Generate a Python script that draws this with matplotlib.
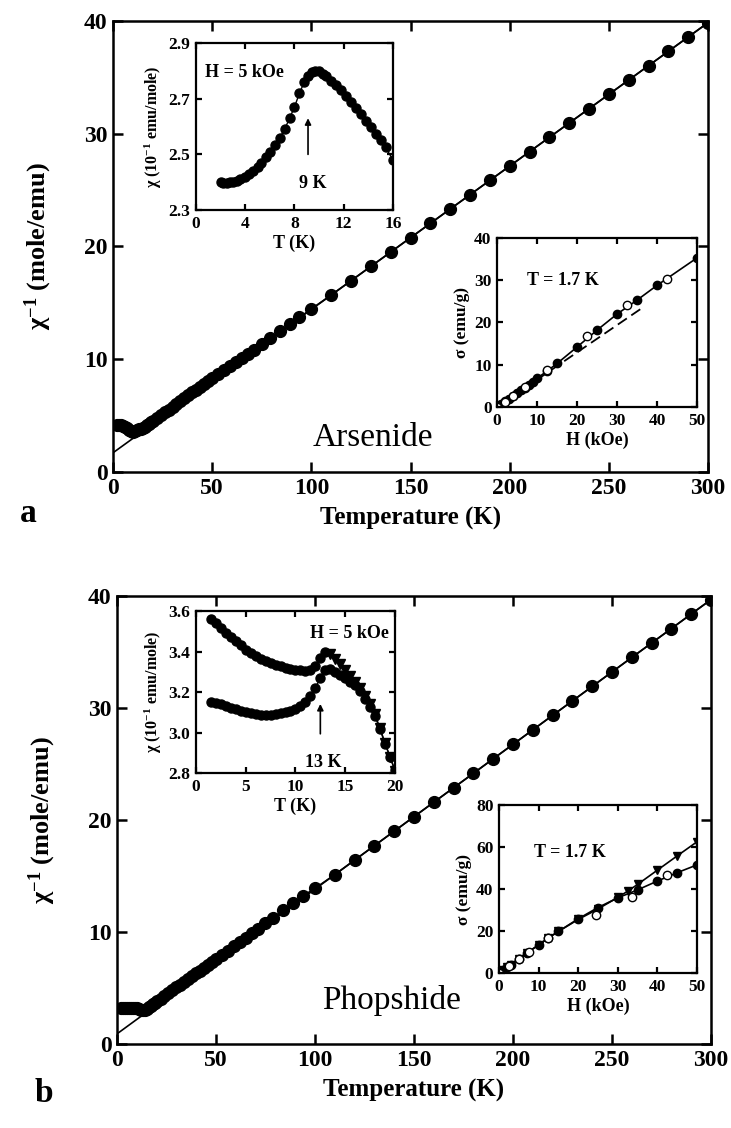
import matplotlib
matplotlib.use('Agg')
import matplotlib.pyplot as plt

plt.rcParams['font.family'] = ['Liberation Serif', 'DejaVu Serif']
plt.rcParams['font.weight'] = 'bold'
plt.rcParams['axes.labelweight'] = 'bold'
plt.rcParams['mathtext.fontset'] = 'custom'
plt.rcParams['mathtext.rm'] = 'Liberation Serif:bold'
plt.rcParams['mathtext.bf'] = 'Liberation Serif:bold'
plt.rcParams['mathtext.default'] = 'bf'

# ---------------- panel a : arsenide ----------------
T_a = [2, 3, 4, 5, 6, 7, 8, 9, 10, 11, 12, 13, 14, 15, 16, 17, 18, 19, 20,
       22, 24, 26, 28, 30, 32, 34, 36, 38, 40, 42, 44, 46, 48, 50,
       53, 56, 59, 62, 65, 68, 71, 75, 79, 84, 89, 94, 100,
       110, 120, 130, 140, 150, 160, 170, 180, 190, 200,
       210, 220, 230, 240, 250, 260, 270, 280, 290, 300]
inv_a = [4.17, 4.16, 4.13, 4.07, 3.98, 3.87, 3.75, 3.60, 3.57, 3.62, 3.69, 3.77, 3.85, 3.94, 4.03,
         4.15, 4.27, 4.40, 4.52,
         4.77, 5.02, 5.28, 5.53, 5.79, 6.04, 6.29, 6.55, 6.80, 7.06, 7.31, 7.56, 7.81, 8.06, 8.31,
         8.66, 9.02, 9.38, 9.75, 10.12, 10.49, 10.86, 11.36, 11.85, 12.47, 13.09, 13.71, 14.46,
         15.69, 16.96, 18.23, 19.50, 20.78, 22.05, 23.32, 24.59, 25.86, 27.13,
         28.41, 29.68, 30.95, 32.22, 33.49, 34.76, 36.04, 37.31, 38.58, 39.85]
fit_a_T = [0, 300]
fit_a = [1.7, 39.85]

# inset: chi vs T
chiT_a = [2.0, 2.2, 2.5, 2.8, 3.0, 3.3, 3.6, 4.0, 4.3, 4.6, 5.0, 5.3, 5.7, 6.0, 6.4, 6.8,
          7.2, 7.6, 8.0, 8.4, 8.8, 9.1, 9.4, 9.7, 10.0, 10.3, 10.6, 11.0, 11.4, 11.8,
          12.2, 12.6, 13.0, 13.4, 13.8, 14.2, 14.6, 15.0, 15.4, 16.0]
chi_a = [2.400, 2.398, 2.398, 2.400, 2.402, 2.406, 2.412, 2.420, 2.430, 2.440, 2.455, 2.470,
         2.490, 2.510, 2.535, 2.560, 2.590, 2.630, 2.670, 2.720, 2.760, 2.780, 2.795, 2.800,
         2.798, 2.790, 2.780, 2.765, 2.750, 2.730, 2.710, 2.690, 2.665, 2.645, 2.620, 2.600,
         2.575, 2.550, 2.525, 2.480]

# inset: sigma vs H at 1.7 K
H_a = [0, 1, 2, 3, 4, 5, 6, 7, 8, 9, 10, 12.5, 15, 20, 25, 30, 35, 40, 50]
sig_a = [0, 0.6, 1.3, 2.0, 2.7, 3.3, 4.0, 4.6, 5.3, 6.0, 6.8, 8.5, 10.3, 14.2, 18.2, 22.0, 25.3, 28.8, 35.3]
H_a_open = [0, 2, 4, 7, 12.5, 22.5, 32.5, 42.5]
sig_a_open = [0, 1.1, 2.5, 4.7, 8.8, 16.8, 24.1, 30.4]
H_a_dash = [0, 36.2]
sig_a_dash = [0, 23.4]

# ---------------- panel b : phosphide ----------------
T_b = [2, 3, 4, 5, 6, 7, 8, 9, 10, 11, 12, 13, 14, 15, 16, 17, 18, 19, 20,
       22, 24, 26, 28, 30, 32, 34, 36, 38, 40, 42, 44, 46, 48, 50,
       53, 56, 59, 62, 65, 68, 71, 75, 79, 84, 89, 94, 100,
       110, 120, 130, 140, 150, 160, 170, 180, 190, 200,
       210, 220, 230, 240, 250, 260, 270, 280, 290, 300]
inv_b = [3.17, 3.18, 3.19, 3.21, 3.22, 3.23, 3.23, 3.22, 3.20, 3.15, 3.07, 3.01, 3.05, 3.15, 3.30,
         3.43, 3.55, 3.67, 3.80,
         4.05, 4.30, 4.55, 4.80, 5.05, 5.30, 5.56, 5.81, 6.06, 6.30, 6.56, 6.81, 7.07, 7.32, 7.57,
         7.95, 8.34, 8.72, 9.10, 9.49, 9.87, 10.26, 10.77, 11.28, 11.93, 12.58, 13.23, 13.90,
         15.12, 16.42, 17.71, 19.00, 20.30, 21.59, 22.88, 24.17, 25.47, 26.76,
         28.05, 29.35, 30.64, 31.93, 33.23, 34.52, 35.81, 37.10, 38.40, 39.69]
fit_b_T = [0, 300]
fit_b = [0.9, 39.69]

# inset: chi vs T, two branches
chiT_b = [1.5, 2.0, 2.5, 3.0, 3.5, 4.0, 4.5, 5.0, 5.5, 6.0, 6.5, 7.0, 7.5, 8.0, 8.5, 9.0,
          9.5, 10.0, 10.5, 11.0, 11.5, 12.0, 12.5, 13.0, 13.5, 14.0, 14.5, 15.0, 15.5, 16.0,
          16.5, 17.0, 17.5, 18.0, 18.5, 19.0, 19.5, 20.0]
chi_b_up = [3.560, 3.540, 3.515, 3.490, 3.470, 3.450, 3.430, 3.410, 3.395, 3.380, 3.365, 3.355,
            3.345, 3.335, 3.327, 3.320, 3.315, 3.310, 3.307, 3.305, 3.310, 3.330, 3.370, 3.400,
            3.390, 3.365, 3.340, 3.310, 3.280, 3.250, 3.220, 3.180, 3.140, 3.090, 3.020, 2.950,
            2.880, 2.810]
chi_b_low = [3.150, 3.145, 3.140, 3.130, 3.122, 3.115, 3.107, 3.100, 3.095, 3.090, 3.087, 3.085,
             3.087, 3.090, 3.095, 3.100, 3.107, 3.115, 3.130, 3.150, 3.180, 3.220, 3.270, 3.310,
             3.315, 3.300, 3.285, 3.270, 3.250, 3.235, 3.205, 3.165, 3.125, 3.080, 3.015, 2.945,
             2.880, 2.815]

# inset: sigma vs H at 1.7 K
H_b = [0, 1, 2, 3, 5, 7, 10, 12.5, 15, 20, 25, 30, 35, 40, 45, 50]
sig_b_low = [0, 1.3, 2.7, 4.0, 6.8, 9.5, 13.4, 16.8, 19.8, 25.8, 31.2, 35.8, 39.6, 43.8, 47.8, 51.5]
H_b_up = [0, 1, 2, 3, 5, 7, 10, 12.5, 15, 20, 25, 30, 32.5, 35, 40, 45, 50]
sig_b_up = [0, 1.3, 2.7, 4.0, 6.8, 9.5, 13.3, 16.7, 19.8, 25.5, 30.5, 36.0, 39.0, 42.2, 49.0, 55.8, 62.5]
H_b_open = [0, 2.5, 5, 7.5, 12.5, 24.5, 33.5, 42.5]
sig_b_open = [0, 3.3, 6.6, 10.0, 16.8, 27.6, 36.3, 46.7]


def style(ax, size, lw, length):
    ax.tick_params(direction='in', top=True, right=True, length=length, width=lw,
                   labelsize=size, pad=4)
    for s in ax.spines.values():
        s.set_linewidth(lw)


fig = plt.figure(figsize=(7.31, 11.28), dpi=100)

# ===== panel a main =====
ax = fig.add_axes([0.1546, 0.5816, 0.814, 0.3998])
ax.plot(fit_a_T, fit_a, 'k-', lw=1.2)
ax.plot(T_a, inv_a, 'k-o', ms=8.5, lw=1.2)
ax.set_xlim(0, 300)
ax.set_ylim(0, 40)
ax.set_xticks(range(0, 301, 50))
ax.set_yticks(range(0, 41, 10))
style(ax, 17, 1.8, 7)
ax.set_xlabel('Temperature (K)', fontsize=18, labelpad=6)
ax.set_ylabel('χ$^{-1}$ (mole/emu)', fontsize=19)
ax.yaxis.set_label_coords(-0.1, 0.5)
ax.text(0.437, 0.075, 'Arsenide', transform=ax.transAxes, fontsize=24,
        weight='normal', ha='center', va='center')
fig.text(28 / 731, 1 - 513 / 1128, 'a', fontsize=24, ha='center', va='center')

# inset chi(T)
ins = fig.add_axes([0.2681, 0.8138, 0.2695, 0.148])
ins.plot(chiT_a, chi_a, 'k-o', ms=6.5, lw=1)
ins.set_xlim(0, 16)
ins.set_ylim(2.3, 2.9)
ins.set_xticks([0, 4, 8, 12, 16])
ins.set_yticks([2.3, 2.5, 2.7, 2.9])
style(ins, 12.5, 1.6, 4)
ins.set_xlabel('T (K)', fontsize=13, labelpad=2)
ins.set_ylabel('χ (10$^{-1}$ emu/mole)', fontsize=11.5, labelpad=3)
ins.annotate('', xy=(9.1, 2.64), xytext=(9.1, 2.49),
             arrowprops=dict(arrowstyle='-|>', color='k', lw=1.2, mutation_scale=9))
ins.text(9.5, 2.395, '9 K', fontsize=13, ha='center', va='center')
ins.text(0.7, 2.795, 'H = 5 kOe', fontsize=13, ha='left', va='center')

# inset sigma(H)
ins = fig.add_axes([0.680, 0.6392, 0.2736, 0.1498])
ins.plot(H_a_dash, sig_a_dash, 'k--', lw=1.3, dashes=(6, 3))
ins.plot(H_a, sig_a, 'k-o', ms=6, lw=1.2)
ins.plot(H_a_open, sig_a_open, 'o', ms=6, mfc='white', mec='k', mew=1)
ins.set_xlim(0, 50)
ins.set_ylim(0, 40)
ins.set_xticks(range(0, 51, 10))
ins.set_yticks(range(0, 41, 10))
style(ins, 12.5, 1.6, 4)
ins.set_xlabel('H (kOe)', fontsize=13, labelpad=2)
ins.set_ylabel('σ (emu/g)', fontsize=12.5, labelpad=3)
ins.text(16.5, 30, 'T = 1.7 K', fontsize=13, ha='center', va='center')

# ===== panel b main =====
ax = fig.add_axes([0.160, 0.0745, 0.8126, 0.397])
ax.plot(fit_b_T, fit_b, 'k-', lw=1.2)
ax.plot(T_b, inv_b, 'k-o', ms=8.5, lw=1.2)
ax.set_xlim(0, 300)
ax.set_ylim(0, 40)
ax.set_xticks(range(0, 301, 50))
ax.set_yticks(range(0, 41, 10))
style(ax, 17, 1.8, 7)
ax.set_xlabel('Temperature (K)', fontsize=18, labelpad=6)
ax.set_ylabel('χ$^{-1}$ (mole/emu)', fontsize=19)
ax.yaxis.set_label_coords(-0.1, 0.5)
ax.text(0.462, 0.098, 'Phopshide', transform=ax.transAxes, fontsize=24,
        weight='normal', ha='center', va='center')
fig.text(44 / 731, 1 - 1093 / 1128, 'b', fontsize=24, ha='center', va='center')

# inset chi(T)
ins = fig.add_axes([0.2681, 0.3147, 0.2722, 0.1436])
ins.plot(chiT_b, chi_b_up, 'k-', lw=1)
ins.plot(chiT_b[:24], chi_b_up[:24], 'ko', ms=6.5)
ins.plot(chiT_b[24:], chi_b_up[24:], 'kv', ms=7)
ins.plot(chiT_b, chi_b_low, 'k-o', ms=6.5, lw=1)
ins.set_xlim(0, 20)
ins.set_ylim(2.8, 3.6)
ins.set_xticks([0, 5, 10, 15, 20])
ins.set_yticks([2.8, 3.0, 3.2, 3.4, 3.6])
ins.set_yticklabels(['2.8', '3.0', '3.2', '3.4', '3.6'])
style(ins, 12.5, 1.6, 4)
ins.set_xlabel('T (K)', fontsize=13, labelpad=2)
ins.set_ylabel('χ (10$^{-1}$ emu/mole)', fontsize=11.5, labelpad=3)
ins.annotate('', xy=(12.5, 3.155), xytext=(12.5, 2.98),
             arrowprops=dict(arrowstyle='-|>', color='k', lw=1.2, mutation_scale=9))
ins.text(12.8, 2.85, '13 K', fontsize=13, ha='center', va='center')
ins.text(19.4, 3.49, 'H = 5 kOe', fontsize=13, ha='right', va='center')

# inset sigma(H)
ins = fig.add_axes([0.6826, 0.1374, 0.2709, 0.1489])
ins.plot(H_b_up, sig_b_up, 'k-v', ms=5.5, lw=1.2)
ins.plot(H_b, sig_b_low, 'k-o', ms=6, lw=1.2)
ins.plot(H_b_open, sig_b_open, 'o', ms=6, mfc='white', mec='k', mew=1)
ins.set_xlim(0, 50)
ins.set_ylim(0, 80)
ins.set_xticks(range(0, 51, 10))
ins.set_yticks(range(0, 81, 20))
style(ins, 12.5, 1.6, 4)
ins.set_xlabel('H (kOe)', fontsize=13, labelpad=2)
ins.set_ylabel('σ (emu/g)', fontsize=12.5, labelpad=3)
ins.text(17.9, 57.6, 'T = 1.7 K', fontsize=13, ha='center', va='center')

fig.savefig('out.png', dpi=100)
